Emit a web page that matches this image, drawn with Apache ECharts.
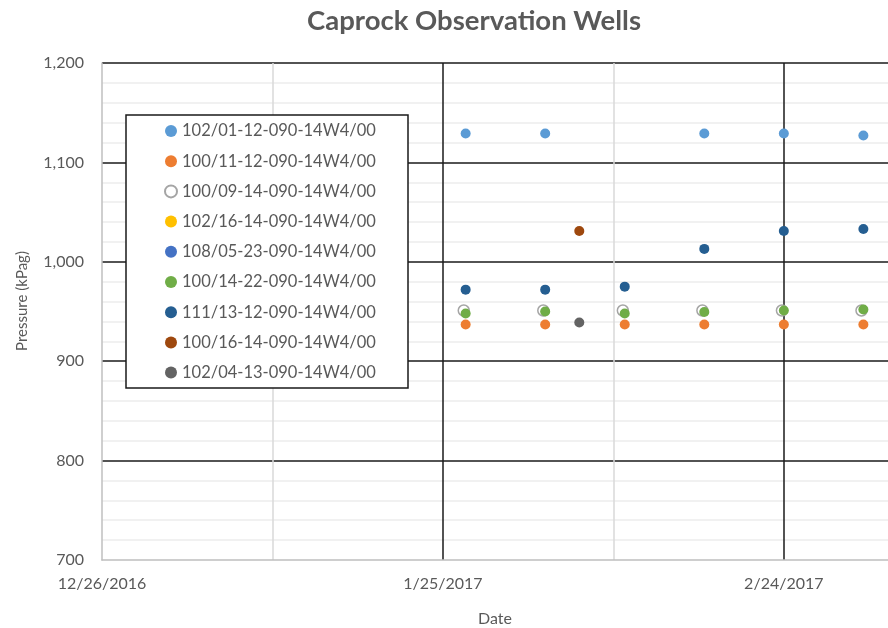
<!DOCTYPE html>
<html>
<head>
<meta charset="utf-8">
<script src="https://cdn.jsdelivr.net/npm/echarts@6/dist/echarts.min.js"></script>
<style>html,body{margin:0;padding:0;background:#fff;}#c{width:888px;height:628px;}</style>
</head>
<body>
<div id="c"></div>
<script>
// ---- data ----
const wellNames = ['102/01-12-090-14W4/00','100/11-12-090-14W4/00','100/09-14-090-14W4/00','102/16-14-090-14W4/00','108/05-23-090-14W4/00','100/14-22-090-14W4/00','111/13-12-090-14W4/00','100/16-14-090-14W4/00','102/04-13-090-14W4/00'];
const wellColors = ['#5B9BD5','#ED7D31','#A5A5A5','#FFC000','#4472C4','#70AD47','#255E91','#9E480E','#636363'];

const dates_w1 = ['2017-01-27','2017-02-03','2017-02-17','2017-02-24','2017-03-03'];
const vals_w1  = [1129,1129,1129,1129,1127];
const dates_w2 = ['2017-01-27','2017-02-03','2017-02-10','2017-02-17','2017-02-24','2017-03-03'];
const vals_w2  = [937,937,937,937,937,937];
const dates_w3 = ['2017-01-26T20:00','2017-02-02T20:00','2017-02-09T20:00','2017-02-16T20:00','2017-02-23T20:00','2017-03-02T20:00'];
const vals_w3  = [951,951,951,951,951,951];
const dates_w4 = [];
const vals_w4  = [];
const dates_w5 = [];
const vals_w5  = [];
const dates_w6 = ['2017-01-27','2017-02-03','2017-02-10','2017-02-17','2017-02-24','2017-03-03'];
const vals_w6  = [948,950,948,949.5,951,952];
const dates_w7 = ['2017-01-27','2017-02-03','2017-02-10','2017-02-17','2017-02-24','2017-03-03'];
const vals_w7  = [972,972,975,1013,1031,1033];
const dates_w8 = ['2017-02-06'];
const vals_w8  = [1031];
const dates_w9 = ['2017-02-06'];
const vals_w9  = [939];

const xMinDate = '2016-12-26';
const xMaxDate = '2017-03-05T04:00';
const yMin = 700, yMax = 1200, yStep = 100;
const xStepDays = 30;

const titleText = 'Caprock Observation Wells';
const xName = 'Date';
const yName = 'Pressure (kPag)';

// ---- helpers ----
function ts(s){
  const [d,t] = s.split('T');
  const [Y,M,D] = d.split('-').map(Number);
  let h=0,m=0;
  if(t){ [h,m] = t.split(':').map(Number); }
  return Date.UTC(Y,M-1,D,h,m);
}
const DAY = 86400000;
const allDates = [dates_w1,dates_w2,dates_w3,dates_w4,dates_w5,dates_w6,dates_w7,dates_w8,dates_w9];
const allVals  = [vals_w1,vals_w2,vals_w3,vals_w4,vals_w5,vals_w6,vals_w7,vals_w8,vals_w9];

const FONT = 'Lato';
const TXT = '#595959';

const series = wellNames.map((name,i)=>{
  const open = i===2;
  return {
    name: name,
    type: 'scatter',
    symbol: 'circle',
    symbolSize: open ? 11 : 10,
    data: allDates[i].map((d,k)=>[ts(d), allVals[i][k]]),
    itemStyle: open ? {color:'#ffffff', borderColor: wellColors[i], borderWidth: 1.5, opacity: 1}
                    : {color: wellColors[i], opacity: 1},
    emphasis: {disabled: true},
    z: 2
  };
});

const chart = echarts.init(document.getElementById('c'));
chart.setOption({
  animation: false,
  backgroundColor: '#ffffff',
  grid: {left: 102, top: 63, right: 0, bottom: 68, containLabel: false, outerBoundsMode: 'none'},
  xAxis: {
    type: 'value',
    min: ts(xMinDate),
    max: ts(xMaxDate),
    interval: xStepDays*DAY,
    name: xName,
    nameLocation: 'middle',
    nameGap: 51,
    nameTextStyle: {fontFamily: FONT, fontSize: 16, color: TXT},
    axisLine: {show: true, lineStyle: {color: '#BFBFBF', width: 1.5}},
    axisTick: {show: false},
    axisLabel: {
      fontFamily: FONT, fontSize: 16, color: TXT, margin: 16, showMaxLabel: false,
      formatter: function(v){ const d = new Date(v); return (d.getUTCMonth()+1)+'/'+d.getUTCDate()+'/'+d.getUTCFullYear(); }
    },
    splitLine: {show: true, showMinLine: false, showMaxLine: false, lineStyle: {color: '#1a1a1a', width: 1.5}},
    minorTick: {show: false, splitNumber: 2},
    minorSplitLine: {show: true, lineStyle: {color: '#D9D9D9', width: 1.5}}
  },
  yAxis: {
    type: 'value',
    min: yMin, max: yMax, interval: yStep,
    axisLine: {show: true, lineStyle: {color: '#BFBFBF', width: 1.5}},
    axisTick: {show: false},
    axisLabel: {
      fontFamily: FONT, fontSize: 16, color: TXT, margin: 18,
      formatter: function(v){ return v.toLocaleString('en-US'); }
    },
    splitLine: {show: true, showMinLine: false, lineStyle: {color: '#1a1a1a', width: 1.5}},
    minorTick: {show: false, splitNumber: 5},
    minorSplitLine: {show: true, lineStyle: {color: '#EDEDED', width: 1.5}}
  },
  legend: {
    orient: 'vertical',
    left: 159, top: 117,
    itemWidth: 12, itemHeight: 12, itemGap: 12.2,
    icon: 'circle',
    selectedMode: false,
    textStyle: {fontFamily: FONT, fontSize: 16.5, color: TXT, lineHeight: 18},
    data: wellNames,
    z: 5
  },
  graphic: [
    {type: 'rect', shape: {x: 126, y: 115, width: 282, height: 273},
     style: {fill: '#ffffff', stroke: '#1a1a1a', lineWidth: 1.5}, z: 3, silent: true},
    {type: 'text', x: 474, y: 21, z: 5,
     style: {text: titleText, fontFamily: FONT, fontWeight: 'bold', fontSize: 27.5,
             fill: TXT, textAlign: 'center', textVerticalAlign: 'middle'}},
    {type: 'text', x: 22, y: 301, rotation: Math.PI/2, z: 5,
     style: {text: yName, fontFamily: FONT, fontSize: 15, fill: TXT,
             textAlign: 'center', textVerticalAlign: 'middle'}}
  ],
  series: series
});
</script>
</body>
</html>
